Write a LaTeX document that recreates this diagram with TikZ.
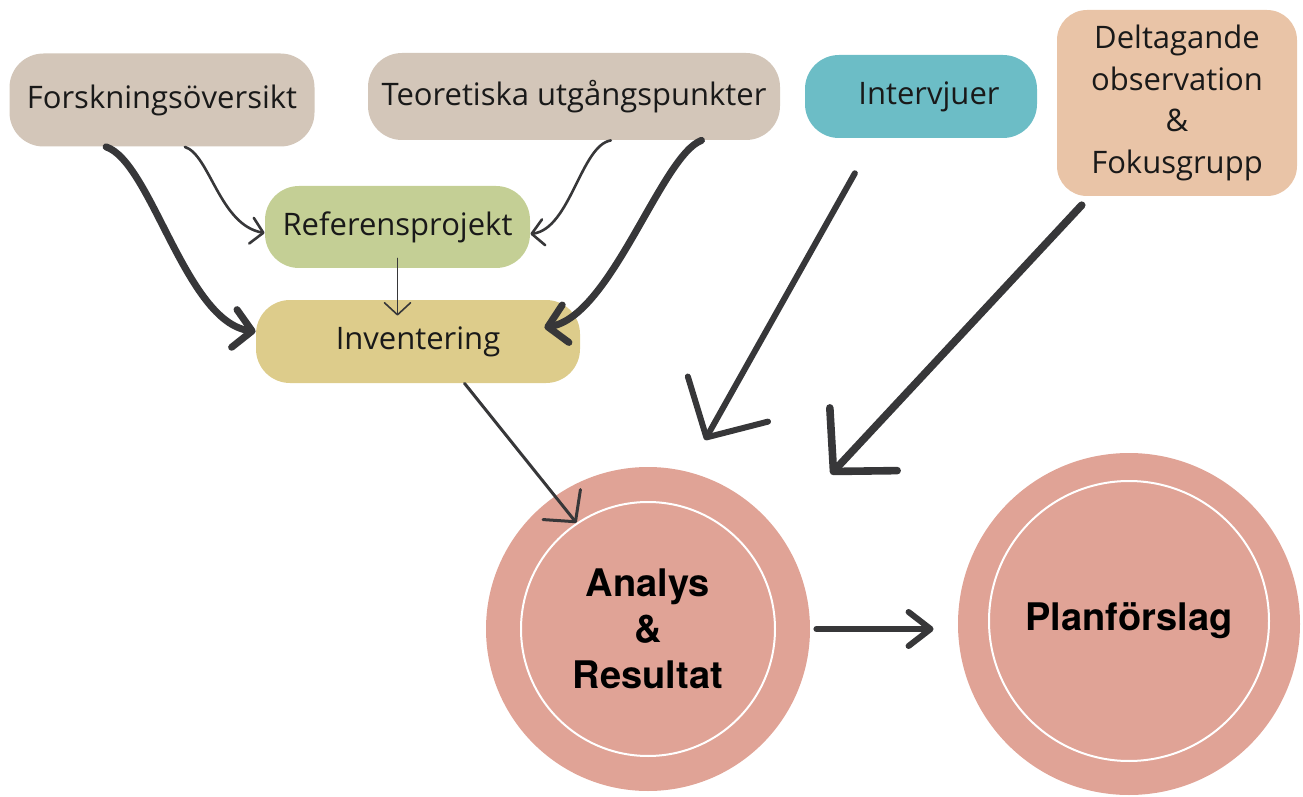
\documentclass[tikz,border=0pt]{standalone}
\usepackage{fontspec}
\usetikzlibrary{arrows.meta}
\newfontfamily\labelfont{Open Sans}
\newfontfamily\ringfamily{TeX Gyre Heros}
\definecolor{greige}{RGB}{211,198,185}
\definecolor{skyblue}{RGB}{108,189,198}
\definecolor{peach}{RGB}{233,196,167}
\definecolor{sage}{RGB}{196,207,149}
\definecolor{sand}{RGB}{221,204,139}
\definecolor{rose}{RGB}{224,163,150}
\definecolor{ink}{RGB}{55,55,57}
\tikzset{
  box/.style={rounded corners=17pt, inner sep=0pt, align=center, text=black!90,
    font=\labelfont\fontsize{15.5}{20.8}\selectfont},
  ring/.style={circle, fill=rose, inner sep=0pt},
  inring/.style={circle, draw=white, line width=1pt, inner sep=0pt, align=center,
    font=\ringfamily\bfseries\fontsize{19}{23}\selectfont},
  link/.style={draw=ink, line cap=round, line join=round},
  slimarr/.style={link, line width=1.3pt, -{Straight Barb[round,length=6pt,width=13pt]}},
  curvearr/.style={link, line width=3.5pt, -{Straight Barb[round,length=9pt,width=19pt]}},
  midarr/.style={link, line width=1.5pt, -{Straight Barb[round,length=11pt,width=24pt]}},
  heavyarr/.style={link, line width=3.2pt, -{Straight Barb[round,length=22pt,width=46pt]}}
}
\begin{document}
\begin{tikzpicture}[x=0.5pt,y=-0.5pt]
    \useasboundingbox (0,0) rectangle (1303,797);
    % circles
    \node[ring, minimum size=162pt] (analys) at (648,629) {};
    \node[inring, minimum size=127pt] (analysin) at (648,629) {Analys\\\&\\Resultat};
    \node[ring, minimum size=171pt] (plan) at (1129,624) {};
    \node[inring, minimum size=140pt] (planin) at (1129,621) {Planförslag};
    % boxes
    \node[box, fill=greige, minimum width=152.5pt, minimum height=46.5pt] (forsk) at (162,100) {Forskningsöversikt};
    \node[box, fill=greige, minimum width=206pt, minimum height=43.5pt] (teo) at (574,96.5) {Teoretiska utgångspunkter};
    \node[box, fill=skyblue, minimum width=116pt, minimum height=41.5pt] (interv) at (921,96.5) {\hspace*{8pt}Intervjuer};
    \node[box, fill=peach, rounded corners=15pt, minimum width=120pt, minimum height=93pt] (delt) at (1177,103) {Deltagande\\observation\\\&\\Fokusgrupp};
    \node[box, fill=sage, minimum width=132.5pt, minimum height=41pt] (ref) at (397.5,227) {Referensprojekt};
    \node[box, fill=sand, minimum width=162pt, minimum height=41.5pt] (inv) at (418,341.5) {Inventering};
    % arrows
    \draw[curvearr] (forsk.220) .. controls +(45,15) and +(-70,-10) .. ([yshift=5pt]inv.west);
    \draw[slimarr] (forsk.-64) .. controls +(25,8) and +(-45,-8) .. ([yshift=-3pt]ref.west);
    \draw[slimarr] (teo.-50) .. controls +(-30,5) and +(40,-5) .. (ref.-3);
    \draw[curvearr] (teo.-19) .. controls +(-40,15) and +(67,-12) .. ([xshift=-18pt,yshift=7pt]inv.east);
    \draw[slimarr, line width=0.8pt, shorten <=-5pt, shorten >=-8pt] (ref.south) -- (ref.south |- inv.north);
    \draw[heavyarr, line width=3pt, shorten <=20pt, shorten >=18pt] (interv.222) -- (analys.76);
    \draw[heavyarr, line width=3.8pt, shorten <=6pt, shorten >=39pt] (delt.227) -- (analys.37);
    \draw[midarr] (inv.-42) -- (analysin.124);
    \draw[link, line width=3pt, -{Straight Barb[round,length=11pt,width=17pt]}, shorten <=3pt, shorten >=12pt] (analys.east) -- (analys.east -| plan.west);
\end{tikzpicture}
\end{document}
